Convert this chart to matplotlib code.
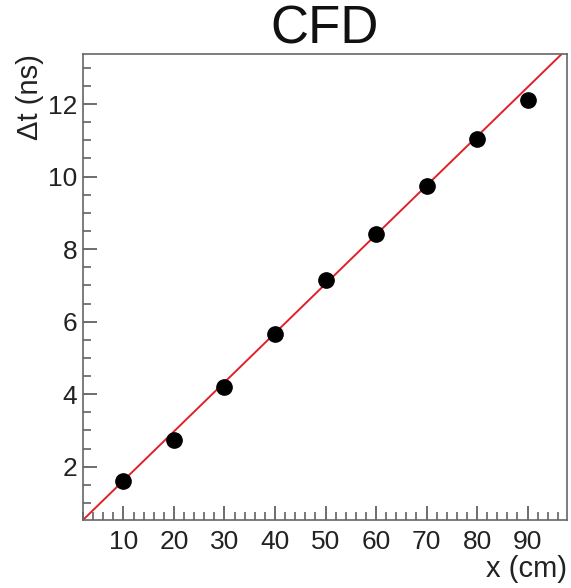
import numpy as np
import matplotlib
matplotlib.use("Agg")
import matplotlib.pyplot as plt
from matplotlib.ticker import MultipleLocator

# Data
x_cm = [10, 20, 30, 40, 50, 60, 70, 80, 90]
dt_ns = [1.61, 2.74, 4.20, 5.66, 7.15, 8.43, 9.75, 11.04, 12.12]
fit_slope = 0.1356
fit_intercept = 0.26
title = "CFD"
xlabel = "x (cm)"
ylabel = "Δt (ns)"
xticks = [10, 20, 30, 40, 50, 60, 70, 80, 90]
yticks = [2, 4, 6, 8, 10, 12]

plt.rcParams['font.family'] = ['Liberation Sans', 'DejaVu Sans']

fig = plt.figure(figsize=(5.71, 5.88), dpi=100)
ax = fig.add_axes([83/571, 1-520/588, (567-83)/571, (520-54)/588])

xf = np.array([0.0, 100.0])
ax.plot(xf, fit_slope * xf + fit_intercept, color='#e0202a', lw=1.4, zorder=2)
ax.plot(x_cm, dt_ns, 'o', color='black', ms=11, zorder=3)

ax.set_xlim(2, 97.8)
ax.set_ylim(0.53, 13.38)

ax.set_xticks(xticks)
ax.set_yticks(yticks)
ax.xaxis.set_minor_locator(MultipleLocator(2))
ax.yaxis.set_minor_locator(MultipleLocator(0.5))

ax.tick_params(which='both', direction='in', top=False, right=False,
               color='#555555', labelsize=19, labelcolor='#222222')
ax.tick_params(which='major', length=10, width=1.2)
ax.tick_params(which='minor', length=5.5, width=1.1)
ax.tick_params(axis='x', pad=7)
ax.tick_params(axis='y', pad=4)

for s in ax.spines.values():
    s.set_color('#666666')
    s.set_linewidth(1.2)

ax.set_title(title, fontsize=38, pad=2, color='#111111')
ax.set_xlabel(xlabel, fontsize=21, loc='right', labelpad=1, color='#222222')
ax.set_ylabel(ylabel, fontsize=21, loc='top', labelpad=3, color='#222222')

fig.savefig('out.png', dpi=100, facecolor='white')
